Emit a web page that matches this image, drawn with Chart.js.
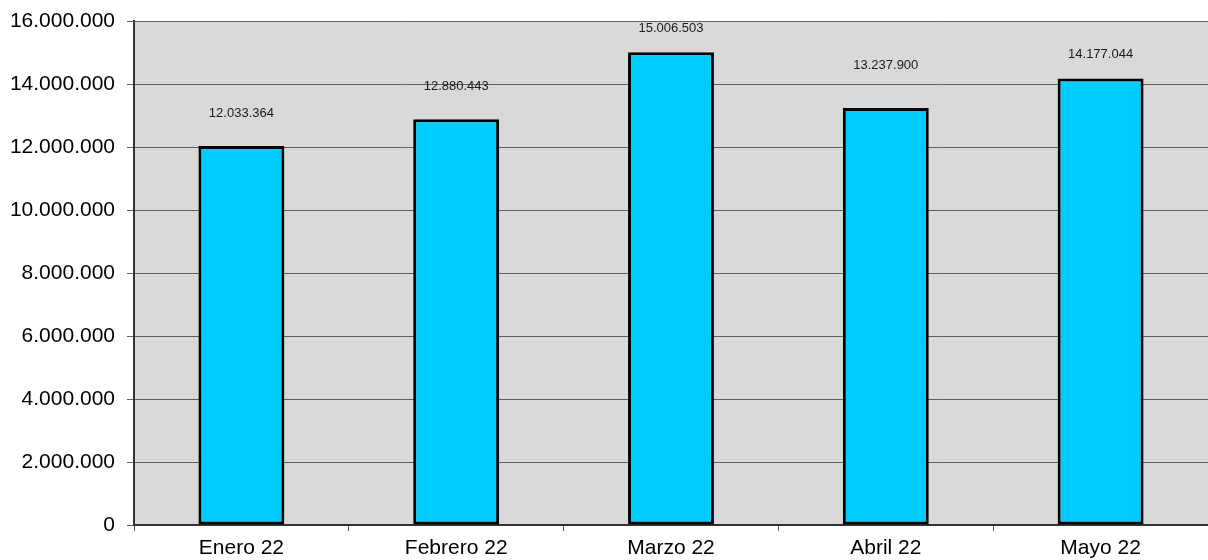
<!DOCTYPE html>
<html>
<head>
<meta charset="utf-8">
<script src="https://cdn.jsdelivr.net/npm/chart.js@4"></script>
<style>
  html, body { margin: 0; padding: 0; background: #fff; }
  #wrap { width: 1208px; height: 560px; }
</style>
</head>
<body>
<div id="wrap"><canvas id="chart"></canvas></div>
<script>
const months = ["Enero 22", "Febrero 22", "Marzo 22", "Abril 22", "Mayo 22"];
const totals = [12033364, 12880443, 15006503, 13237900, 14177044];
// label gaps above each bar, as placed in the original
const labelGaps = [33, 33, 24, 43, 24];

function fmt(n) {
    return String(Math.round(n)).replace(/\B(?=(\d{3})+(?!\d))/g, ".");
}

// grey plot background
const plotBg = {
    id: "plotBg",
    beforeDraw(chart) {
        const a = chart.chartArea, ctx = chart.ctx;
        ctx.save();
        ctx.fillStyle = "#d9d9d9";
        ctx.fillRect(a.left, a.top, a.right - a.left, a.bottom - a.top);
        ctx.restore();
    }
};

// value labels above the bars
const barLabels = {
    id: "barLabels",
    afterDatasetsDraw(chart) {
        const ctx = chart.ctx;
        const meta = chart.getDatasetMeta(0);
        ctx.save();
        ctx.font = "13px 'Liberation Sans', Arial, sans-serif";
        ctx.fillStyle = "#1a1a1a";
        ctx.textAlign = "center";
        ctx.textBaseline = "middle";
        meta.data.forEach((bar, i) => {
            ctx.fillText(fmt(totals[i]), bar.x, bar.y - labelGaps[i]);
        });
        ctx.restore();
    }
};

new Chart(document.getElementById("chart"), {
    type: "bar",
    data: {
        labels: months,
        datasets: [{
            data: totals,
            backgroundColor: "#00ccff",
            borderColor: "#000",
            borderWidth: 3,
            borderSkipped: false,
            barPercentage: 0.4,
            categoryPercentage: 1
        }]
    },
    options: {
        responsive: true,
        maintainAspectRatio: false,
        animation: false,
        layout: { padding: { top: 15, right: 0, left: 0, bottom: 0 } },
        plugins: {
            legend: { display: false },
            tooltip: { enabled: false }
        },
        scales: {
            x: {
                offset: true,
                grid: {
                    offset: true,
                    drawOnChartArea: false,
                    drawTicks: true,
                    tickLength: 6,
                    color: "#555"
                },
                border: { color: "#333", width: 2 },
                ticks: {
                    color: "#000",
                    padding: 5,
                    font: { family: "'Liberation Sans', Arial, sans-serif", size: 21 }
                },
                afterFit(scale) { scale.height = 35; }
            },
            y: {
                min: 0,
                max: 16000000,
                grid: {
                    color: "#5e5e5e",
                    lineWidth: 1,
                    tickLength: 7
                },
                border: { color: "#333", width: 2 },
                ticks: {
                    stepSize: 2000000,
                    color: "#000",
                    padding: 12,
                    font: { family: "'Liberation Sans', Arial, sans-serif", size: 21, lineHeight: 0.86 },
                    callback: v => fmt(v)
                },
                afterFit(scale) { scale.width = 134; }
            }
        }
    },
    plugins: [plotBg, barLabels]
});
</script>
</body>
</html>
